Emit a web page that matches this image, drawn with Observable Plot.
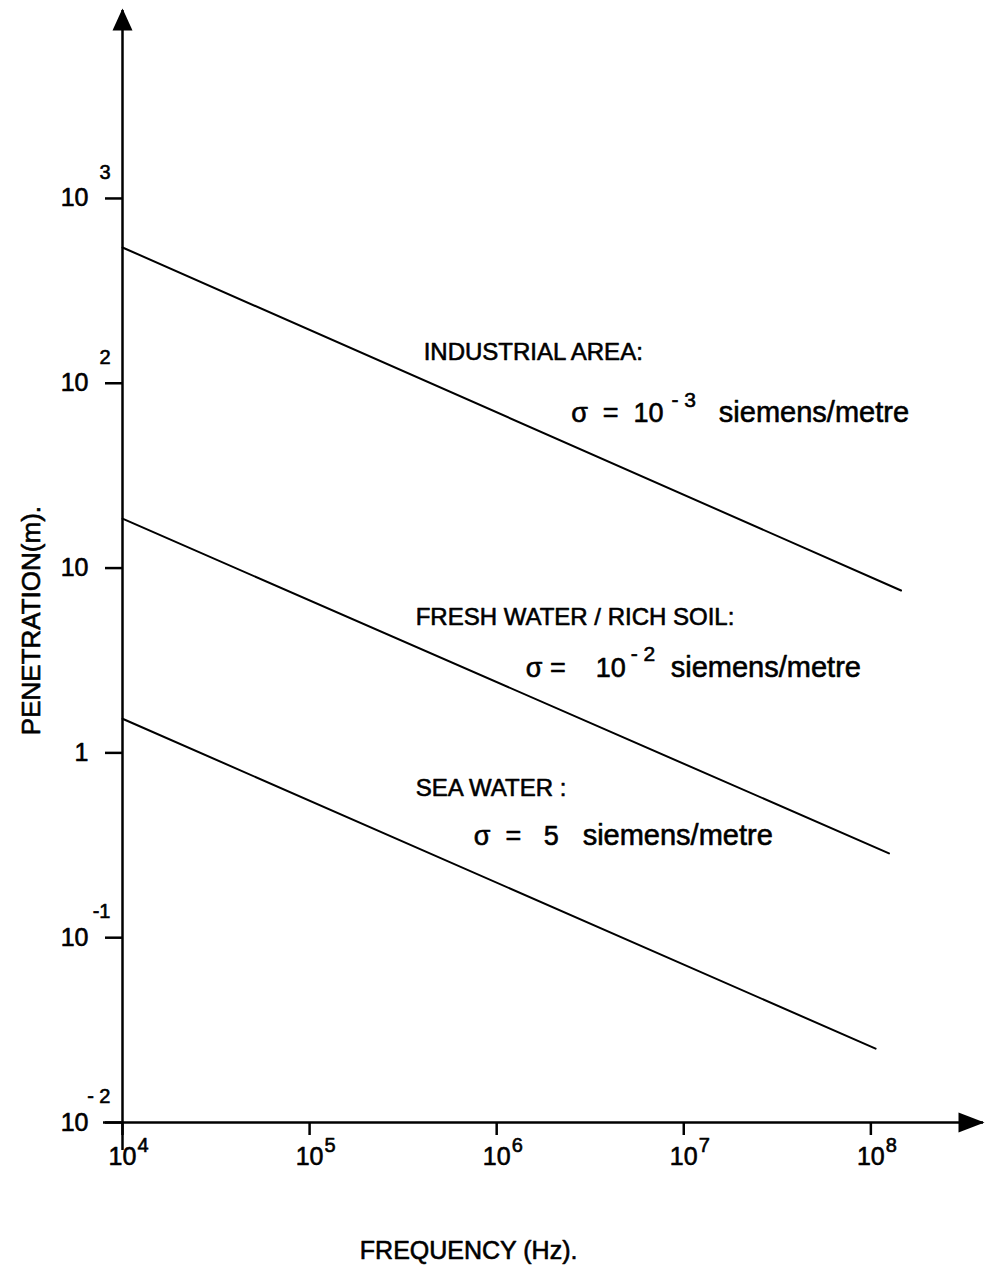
<!DOCTYPE html>
<html>
<head>
<meta charset="utf-8">
<script src="https://cdn.jsdelivr.net/npm/d3@7"></script>
<script src="https://cdn.jsdelivr.net/npm/@observablehq/plot@0.6"></script>
<style>
  html, body { margin: 0; padding: 0; background: #fff; }
  #chart svg { display: block; }
</style>
</head>
<body>
<div id="chart"></div>
<script>
// ---- data ----
const xTicks = [1e4, 1e5, 1e6, 1e7, 1e8];
const xTickExp = ["4", "5", "6", "7", "8"];
const yTicks = [1e-2, 1e-1, 1, 10, 100, 1000];
const yTickBase = ["10", "10", "1", "10", "10", "10"];
const yTickExp = ["- 2", "-1", "", "", "2", "3"];

const seriesNames = ["INDUSTRIAL AREA", "FRESH WATER / RICH SOIL", "SEA WATER"];
const industrialFreq = [1e4, 1.45e8];
const industrialPen = [543, 7.56];
const freshFreq = [1e4, 1.25e8];
const freshPen = [18.5, 0.286];
const seaFreq = [1e4, 1.06e8];
const seaPen = [1.53, 0.0251];

// ---- tables built from the arrays ----
const lineData = [
  ...industrialFreq.map((f, i) => ({series: seriesNames[0], f, p: industrialPen[i]})),
  ...freshFreq.map((f, i) => ({series: seriesNames[1], f, p: freshPen[i]})),
  ...seaFreq.map((f, i) => ({series: seriesNames[2], f, p: seaPen[i]}))
];

const S = "\u00a0";
// annotation anchors, in data units (frequency, penetration)
const titles = [
  {t: "INDUSTRIAL AREA:", f: 4.07e5, p: 133},
  {t: "FRESH WATER / RICH SOIL:", f: 3.69e5, p: 4.89},
  {t: "SEA WATER :", f: 3.69e5, p: 0.587}
];
const sigmaParts = [
  {t: "σ" + S + S + "=" + S + S + "10", f: 2.5e6, p: 61.4},
  {t: "σ" + S + "=" + S + S + S + S + "10", f: 1.43e6, p: 2.59},
  {t: "σ" + S + S + "=" + S + S + S + "5", f: 7.54e5, p: 0.316}
];
const sigmaExp = [
  {t: "- 3", f: 8.6e6, p: 74.0},
  {t: "- 2", f: 5.21e6, p: 3.16}
];
const units = [
  {t: "siemens/metre", f: 1.54e7, p: 61.4},
  {t: "siemens/metre", f: 8.52e6, p: 2.59},
  {t: "siemens/metre", f: 2.88e6, p: 0.316}
];

const upArrow = {draw(ctx) { ctx.moveTo(0, -2); ctx.lineTo(-10, 20); ctx.lineTo(10, 20); ctx.closePath(); }};
const rightArrow = {draw(ctx) { ctx.moveTo(1, 0); ctx.lineTo(-25, -10); ctx.lineTo(-25, 10); ctx.closePath(); }};

const font = "'Liberation Sans', Arial, sans-serif";
const ink = {fill: "black", stroke: "black", strokeWidth: 0.6};

const chart = Plot.plot({
  width: 989,
  height: 1268,
  marginLeft: 122,
  marginRight: 6,
  marginTop: 10,
  marginBottom: 146,
  style: {fontFamily: font, background: "white", color: "black", overflow: "visible"},
  x: {type: "log", domain: [1e4, 4e8], axis: null},
  y: {type: "log", domain: [1e-2, 1.04e4], axis: null},
  marks: [
    Plot.ruleY([1e-2], {stroke: "black", strokeWidth: 2.5, insetLeft: -19}),
    Plot.ruleX([1e4], {stroke: "black", strokeWidth: 2.5, insetBottom: -28}),
    Plot.dot([0], {frameAnchor: "top-left", symbol: upArrow, fill: "black", stroke: "none"}),
    Plot.dot([0], {frameAnchor: "bottom-right", symbol: rightArrow, fill: "black", stroke: "none"}),
    Plot.axisX(xTicks, {anchor: "bottom", tickSize: 13, tickFormat: () => "", label: null, strokeWidth: 2.5}),
    Plot.axisY(yTicks, {anchor: "left", tickSize: 17, tickFormat: () => "", label: null, strokeWidth: 2.5}),
    // x tick labels
    Plot.text(xTicks, {x: d => d, frameAnchor: "bottom", dy: 42, text: () => "10", textAnchor: "middle", lineAnchor: "bottom", fontSize: 25, ...ink}),
    Plot.text(xTicks, {x: d => d, frameAnchor: "bottom", dy: 29, dx: 15, text: (d, i) => xTickExp[i], textAnchor: "start", lineAnchor: "bottom", fontSize: 20, ...ink}),
    // y tick labels
    Plot.text(yTicks, {y: d => d, frameAnchor: "left", dx: -34, text: (d, i) => yTickBase[i], textAnchor: "end", lineAnchor: "middle", fontSize: 25, ...ink}),
    Plot.text(yTicks, {y: d => d, frameAnchor: "left", dx: -12, dy: -26, text: (d, i) => yTickExp[i], textAnchor: "end", lineAnchor: "middle", fontSize: 20, ...ink}),
    // curves
    Plot.line(lineData, {x: "f", y: "p", z: "series", stroke: "black", strokeWidth: 2}),
    // annotations
    Plot.text(titles, {x: "f", y: "p", text: "t", textAnchor: "start", lineAnchor: "bottom", fontSize: 24, ...ink}),
    Plot.text(sigmaParts, {x: "f", y: "p", text: "t", textAnchor: "start", lineAnchor: "bottom", fontSize: 27, ...ink}),
    Plot.text(sigmaExp, {x: "f", y: "p", text: "t", textAnchor: "start", lineAnchor: "bottom", fontSize: 21, ...ink}),
    Plot.text(units, {x: "f", y: "p", text: "t", textAnchor: "start", lineAnchor: "bottom", fontSize: 29, ...ink}),
    // axis titles
    Plot.text(["FREQUENCY (Hz)."], {x: () => 7.08e5, frameAnchor: "bottom", dy: 136, text: d => d, textAnchor: "middle", lineAnchor: "bottom", fontSize: 25, ...ink}),
    Plot.text(["PENETRATION(m)."], {x: () => 3.26e3, y: () => 5.2, text: d => d, rotate: -90, textAnchor: "middle", lineAnchor: "middle", fontSize: 26, ...ink})
  ]
});
document.getElementById("chart").append(chart);
</script>
</body>
</html>
